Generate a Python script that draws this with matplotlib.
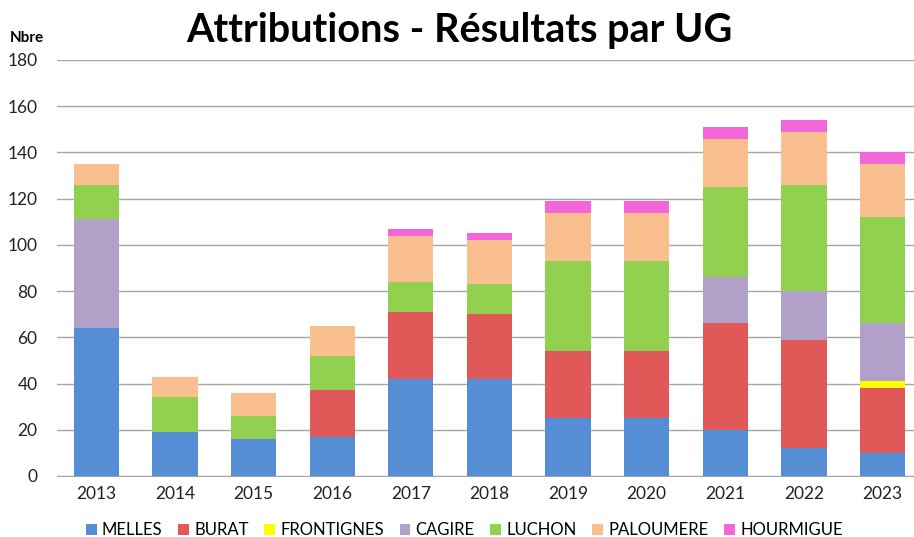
import numpy as np
import matplotlib.pyplot as plt

years = ['2013', '2014', '2015', '2016', '2017', '2018', '2019', '2020', '2021', '2022', '2023']
ug_names = ['MELLES', 'BURAT', 'FRONTIGNES', 'CAGIRE', 'LUCHON', 'PALOUMERE', 'HOURMIGUE']

melles = [64, 19, 16, 17, 42, 42, 25, 25, 20, 12, 10]
burat = [0, 0, 0, 20, 29, 28, 29, 29, 46, 47, 28]
frontignes = [0, 0, 0, 0, 0, 0, 0, 0, 0, 0, 3]
cagire = [47, 0, 0, 0, 0, 0, 0, 0, 20, 21, 25]
luchon = [15, 15, 10, 15, 13, 13, 39, 39, 39, 46, 46]
paloumere = [9, 9, 10, 13, 20, 19, 21, 21, 21, 23, 23]
hourmigue = [0, 0, 0, 0, 3, 3, 5, 5, 5, 5, 5]

colors = ['#558ED5', '#E05858', '#FFFF00', '#B1A0C7', '#92D050', '#F9BF8F', '#F366D9']

plt.rcParams['font.family'] = ['Lato', 'DejaVu Sans']

fig = plt.figure(figsize=(9.14, 5.37), dpi=100)
ax = fig.add_axes([57 / 914, 1 - 476 / 537, 1 - 57 / 914, 416 / 537])

series = [melles, burat, frontignes, cagire, luchon, paloumere, hourmigue]
x = np.arange(len(years))
bottom = np.zeros(len(years))
for name, vals, col in zip(ug_names, series, colors):
    vals = np.array(vals)
    ax.bar(x, vals, width=0.575, bottom=bottom, color=col, label=name, zorder=3)
    bottom += vals

ax.set_ylim(0, 180)
ax.set_xlim(-0.5, 10.4)
ax.set_yticks(range(0, 181, 20))
ax.set_xticks(x)
ax.set_xticklabels(years)
ax.yaxis.grid(True, color='#A6A6A6', lw=1.0, zorder=0)
for s in ['top', 'right', 'left']:
    ax.spines[s].set_visible(False)
ax.spines['bottom'].set_color('#A6A6A6')
ax.tick_params(axis='both', length=0, labelsize=12.5, colors='#222222')
ax.tick_params(axis='y', pad=14)
ax.tick_params(axis='x', pad=7)

fig.text(0.503, 0.943, 'Attributions - Résultats par UG', ha='center', va='center',
         fontsize=28.5, fontweight='bold')
fig.text(10 / 914, 1 - 38 / 537, 'Nbre', ha='left', va='center', fontsize=11, fontweight='bold')

fig.legend(loc='lower center', bbox_to_anchor=(0.508, -0.03), ncol=7, frameon=False,
           fontsize=12, handlelength=0.65, handleheight=0.65, handletextpad=0.3,
           columnspacing=0.95)

fig.savefig('out.png', dpi=100)
